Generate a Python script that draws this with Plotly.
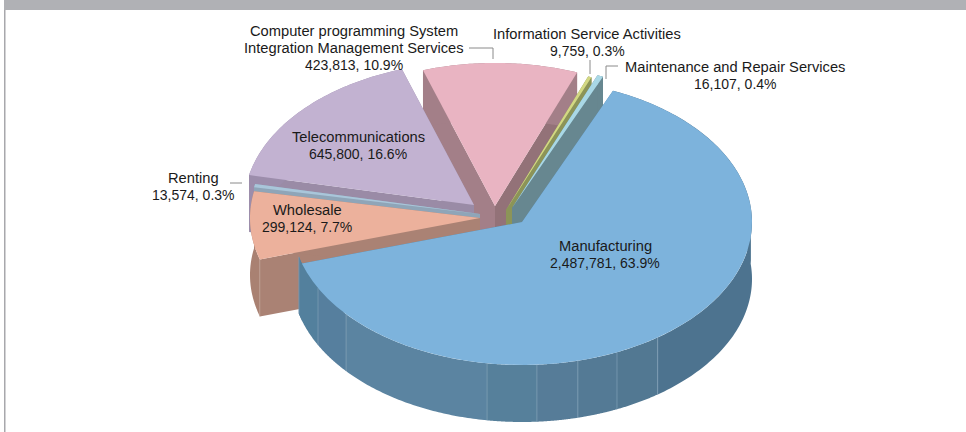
import numpy as np
import plotly.graph_objects as go

# ---- data ----
categories = ["Manufacturing", "Wholesale", "Renting", "Telecommunications",
              "Computer programming System<br>Integration Management Services",
              "Information Service Activities", "Maintenance and Repair Services"]
values = [2487781, 299124, 13574, 645800, 423813, 9759, 16107]

# ---- style ----
top_colors = ["#7db3dc", "#ecb19c", "#a9c6da", "#c2b2d1", "#e9b4c2", "#d3d883", "#a9d8e6"]
wall_start = ["#54809e", "#aa8274", "#8fa5b8", "#9a8ba6", "#a37f88", "#8c9458", "#678790"]
wall_end = ["#54809e", "#aa8274", "#8fa5b8", "#9a8ba6", "#937278", "#8c9458", "#678790"]
wall_arc = ["#54809e", "#a98172", "#8fa5b8", "#9c8dab", "#a37f88", "#8c9458", "#678790"]
apex_x = [522, 480, 480, 474, 495, 506, 512]
apex_y = [222, 218, 214, 205, 206, 210, 208]
label_x = [605, 307, 193, 358, 354, 587, 735]
label_top_y = [246, 210, 178, 137, 31, 34, 67]
paint_order = [4, 3, 2, 1, 5, 6, 0]

RX, RY, DEPTH, START = 230, 143, 57, 23.3
LINE_STEP = 17
mfg_seams_sin = [-0.97, -0.887, -0.765, -0.152, 0.065, 0.243, 0.413, 0.59]
mfg_strip_colors = ["#53809d", "#567f9e", "#5b84a1", "#56809b", "#567c98", "#547a95", "#527892"]
mfg_end_color = "#4d738f"

total = sum(values)
sweeps = [v / total * 360 for v in values]
starts = [START + sum(sweeps[:i]) for i in range(len(values))]


def arc(ax, ay, t0, t1, dy=0, n=60):
    t = np.radians(np.linspace(t0, t1, n))
    return ax + RX * np.sin(t), ay - RY * np.cos(t) + dy


fig = go.Figure()


def poly(x, y, color):
    fig.add_trace(go.Scatter(x=list(x), y=list(y), mode="none", fill="toself",
                             fillcolor=color, hoverinfo="skip", showlegend=False))


def line(x, y, color, width=1):
    fig.add_trace(go.Scatter(x=list(x), y=list(y), mode="lines",
                             line=dict(color=color, width=width),
                             hoverinfo="skip", showlegend=False))


def arc_wall(ax, ay, t0, t1, color):
    xa, ya = arc(ax, ay, t0, t1)
    xb, yb = arc(ax, ay, t0, t1, DEPTH)
    poly(np.r_[xa, xb[::-1]], np.r_[ya, yb[::-1]], color)


for i in paint_order:
    ax, ay, t0, t1 = apex_x[i], apex_y[i], starts[i], starts[i] + sweeps[i]
    # radial walls
    for t, col in ((t0, wall_start[i]), (t1, wall_end[i])):
        ox, oy = arc(ax, ay, t, t, n=1)
        poly([ax, ox[0], ox[0], ax], [ay, oy[0], oy[0] + DEPTH, ay + DEPTH], col)
    # outer wall
    if i == 0:
        # strips of the front wall, running from the left end towards the right
        seam_t = [180 + np.degrees(np.arcsin(-s)) for s in mfg_seams_sin]
        edges = [t1] + seam_t + [seam_t[-1] - 60, t0]
        strip_cols = [mfg_strip_colors[0]] + mfg_strip_colors + [mfg_end_color, mfg_end_color]
        for e0, e1, col in zip(edges[:-1], edges[1:], strip_cols):
            arc_wall(ax, ay, e1, e0, col)
        for t in seam_t:
            sx, sy = arc(ax, ay, t, t, n=1)
            line([sx[0], sx[0]], [sy[0], sy[0] + DEPTH], "#7f9fb6", 0.7)
    else:
        arc_wall(ax, ay, t0, t1, wall_arc[i])
    if i == 1:
        sx, sy = arc(ax, ay, t0, t0, n=1)
        line([sx[0], sx[0]], [sy[0], sy[0] + DEPTH], "#c0a397", 0.7)
    # top face
    xa, ya = arc(ax, ay, t0, t1)
    poly(np.r_[ax, xa, ax], np.r_[ay, ya, ay], top_colors[i])

# leader lines
leader_color = "#8a8a8a"
line([469, 493, 493], [48, 48, 59], leader_color)
line([590, 590], [60, 74], leader_color)
line([606, 606, 618], [79, 66, 66], leader_color)
line([230, 242], [183, 183], leader_color)


def text_line(x, y, s, size):
    fig.add_annotation(x=x, y=y, text=s, showarrow=False, xanchor="center", yanchor="middle",
                       font=dict(family="Liberation Sans", size=size, color="#1a1a1a"))


# labels: one annotation per line so the line spacing can match
for i, name in enumerate(categories):
    pct = round(values[i] / total * 100, 1)
    rows = name.split("<br>")
    for r, row in enumerate(rows):
        text_line(label_x[i], label_top_y[i] + r * LINE_STEP, row, 14.7)
    text_line(label_x[i], label_top_y[i] + len(rows) * LINE_STEP, f"{values[i]:,}, {pct}%", 14)

fig.update_layout(
    width=966, height=432, autosize=False,
    margin=dict(l=0, r=0, t=0, b=0),
    paper_bgcolor="white", plot_bgcolor="white",
    showlegend=False,
    xaxis=dict(range=[0, 966], visible=False, fixedrange=True),
    yaxis=dict(range=[432, 0], visible=False, fixedrange=True),
    shapes=[
        dict(type="rect", xref="x", yref="y", x0=4, x1=966, y0=0, y1=10,
             fillcolor="#b0b1b5", line_width=0, layer="below"),
        dict(type="rect", xref="x", yref="y", x0=4, x1=5.5, y0=10, y1=432,
             fillcolor="#a8a8ac", line_width=0, layer="below"),
    ],
)

fig.write_html("out.html", config={"displayModeBar": False},
               post_script="document.body.style.margin='0';document.body.style.overflow='hidden';")
